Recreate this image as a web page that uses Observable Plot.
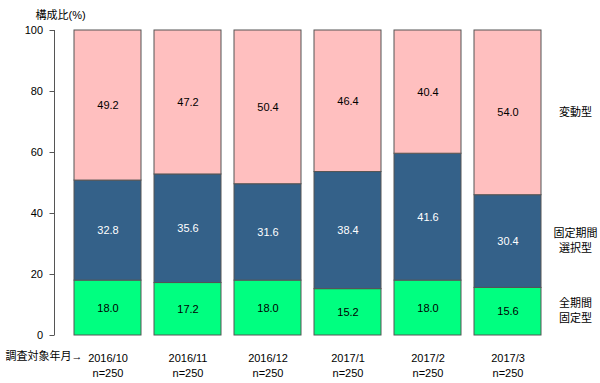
<!DOCTYPE html>
<html>
<head>
<meta charset="utf-8">
<script src="https://cdn.jsdelivr.net/npm/d3@7"></script>
<script src="https://cdn.jsdelivr.net/npm/@observablehq/plot@0.6"></script>
<style>
  html, body { margin: 0; padding: 0; background: #fff; }
  #chart svg { display: block; }
</style>
</head>
<body>
<div id="chart"></div>
<script>
const months = ["2016/10", "2016/11", "2016/12", "2017/1", "2017/2", "2017/3"];
const sampleSizes = ["n=250", "n=250", "n=250", "n=250", "n=250", "n=250"];
const seriesNames = ["全期間固定型", "固定期間選択型", "変動型"];
const seriesLabels = ["全期間\n固定型", "固定期間\n選択型", "変動型"];
const seriesColors = ["#00ff80", "#346189", "#ffbfbf"];
const labelColors = ["#000000", "#ffffff", "#000000"];
const fixedAll = [18.0, 17.2, 18.0, 15.2, 18.0, 15.6];
const fixedPeriod = [32.8, 35.6, 31.6, 38.4, 41.6, 30.4];
const variable = [49.2, 47.2, 50.4, 46.4, 40.4, 54.0];
const yTicks = [0, 20, 40, 60, 80, 100];
const yTitle = "構成比(%)";
const xTitle = "調査対象年月→";

const seriesValues = [fixedAll, fixedPeriod, variable];
const data = [];
months.forEach((m, i) => {
  seriesNames.forEach((s, k) => {
    data.push({month: m, series: s, value: seriesValues[k][i], k});
  });
});
const last = data.filter(d => d.month === months[months.length - 1]);

const font = "'Liberation Sans', Arial, 'Noto Sans CJK JP', sans-serif";

const axisLine = (index, scales, values, dimensions) => {
  const x = dimensions.marginLeft - 11.5;
  const g = d3.create("svg:line")
    .attr("x1", x).attr("x2", x)
    .attr("y1", scales.y(0)).attr("y2", scales.y(100))
    .attr("stroke", "#555").attr("stroke-width", 1);
  return g.node();
};

const chart = Plot.plot({
  width: 600,
  height: 383,
  marginLeft: 66,
  marginRight: 52,
  marginTop: 30,
  marginBottom: 48,
  style: {fontFamily: font, fontSize: "11px", color: "#000", background: "#fff"},
  x: {domain: months, paddingInner: 0.165, paddingOuter: 0.0825, label: null},
  y: {domain: [0, 100], label: null},
  color: {domain: seriesNames, range: seriesColors},
  marks: [
    Plot.barY(data, Plot.stackY({
      x: "month", y: "value", fill: "series",
      stroke: "#555", strokeWidth: 1
    })),
    Plot.text(data, Plot.stackY({
      x: "month", y: "value", z: "series",
      text: d => d.value.toFixed(1),
      fill: d => labelColors[d.k],
      fontSize: 11
    })),
    Plot.text(last, Plot.stackY({
      y: "value", z: "series",
      text: d => seriesLabels[d.k],
      frameAnchor: "right", dx: 27, dy: -2, textAnchor: "middle",
      lineHeight: 1.35, fontSize: 11, fill: "#000"
    })),
    Plot.axisY({ticks: yTicks, tickSize: 5, tickPadding: 7, dx: -11.5, label: null, stroke: "#555", fontSize: 11}),
    axisLine,
    Plot.axisX({
      tickSize: 0, tickPadding: 16, label: null, lineHeight: 1.35, fontSize: 11,
      tickFormat: (d, i) => d + "\n" + sampleSizes[months.indexOf(d)]
    }),
    Plot.text([yTitle], {frameAnchor: "top-left", dx: -31, dy: -19, textAnchor: "start", fontSize: 11, fill: "#000"}),
    Plot.text([xTitle], {frameAnchor: "bottom-left", dx: -61, dy: 24, textAnchor: "start", fontSize: 11, fill: "#000"})
  ]
});
document.getElementById("chart").appendChild(chart);
</script>
</body>
</html>
